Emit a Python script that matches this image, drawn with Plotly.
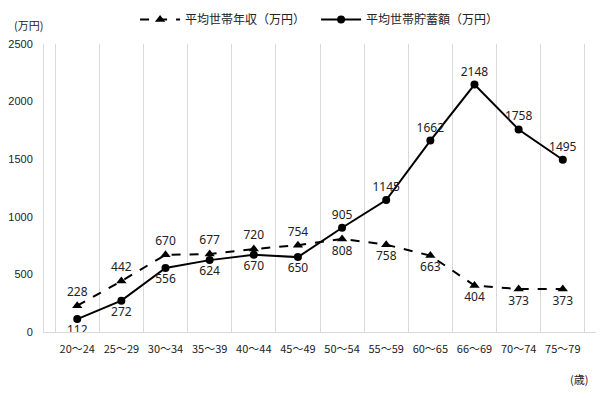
import plotly.graph_objects as go

categories = ["20～24", "25～29", "30～34", "35～39", "40～44", "45～49",
              "50～54", "55～59", "60～65", "66～69", "70～74", "75～79"]
income = [228, 442, 670, 677, 720, 754, 808, 758, 663, 404, 373, 373]
savings = [112, 272, 556, 624, 670, 650, 905, 1145, 1662, 2148, 1758, 1495]
income_pos = ["top center"] * 6 + ["bottom center"] * 6
savings_pos = ["bottom center"] * 6 + ["top center"] * 6

label_font = dict(family="Noto Sans, sans-serif", size=12, color="#222")

fig = go.Figure()
fig.add_trace(go.Scatter(
    x=categories, y=income, name="平均世帯年収（万円）",
    mode="lines+markers+text", text=[str(v) for v in income],
    textposition=income_pos, textfont=label_font,
    line=dict(color="black", width=2, dash="dash"),
    marker=dict(symbol="triangle-up", size=9, color="black"),
))
fig.add_trace(go.Scatter(
    x=categories, y=savings, name="平均世帯貯蓄額（万円）",
    mode="lines+markers+text", text=[str(v) for v in savings],
    textposition=savings_pos, textfont=label_font,
    line=dict(color="black", width=2),
    marker=dict(symbol="circle", size=8, color="black"),
))

fig.update_layout(
    width=614, height=398,
    margin=dict(l=36, r=26, t=36, b=74, autoexpand=False),
    paper_bgcolor="white", plot_bgcolor="white",
    font=dict(family="Noto Sans CJK JP, sans-serif", size=11, color="#222"),
    showlegend=True,
    legend=dict(orientation="h", xref="paper", yref="paper",
                x=0.165, y=1.135, xanchor="left", yanchor="top",
                font=dict(size=12), itemwidth=40, tracegroupgap=0,
                entrywidth=126, entrywidthmode="pixels"),
    annotations=[
        dict(text="(万円)", xref="paper", yref="paper", x=-0.058, y=1.0,
             xanchor="left", yanchor="bottom", yshift=9, showarrow=False,
             font=dict(size=11)),
        dict(text="(歳)", xref="paper", yref="paper", x=0.969, y=-0.163,
             xanchor="center", yanchor="middle", showarrow=False, font=dict(size=11)),
    ],
)
fig.update_xaxes(type="category", tickson="boundaries", showgrid=True,
                 gridcolor="#d9d9d9", gridwidth=1, showline=True,
                 linecolor="#d9d9d9", ticks="", mirror=False, automargin=False,
                 ticklabelstandoff=7,
                 tickfont=dict(family="Noto Sans CJK JP, sans-serif", size=11))
fig.update_yaxes(range=[0, 2500], dtick=500, showgrid=False, showline=True,
                 linecolor="#d9d9d9", ticks="", zeroline=False, automargin=False,
                 ticklabelstandoff=8,
                 tickfont=dict(family="Liberation Sans, sans-serif", size=11))

fig.write_html("out.html")
